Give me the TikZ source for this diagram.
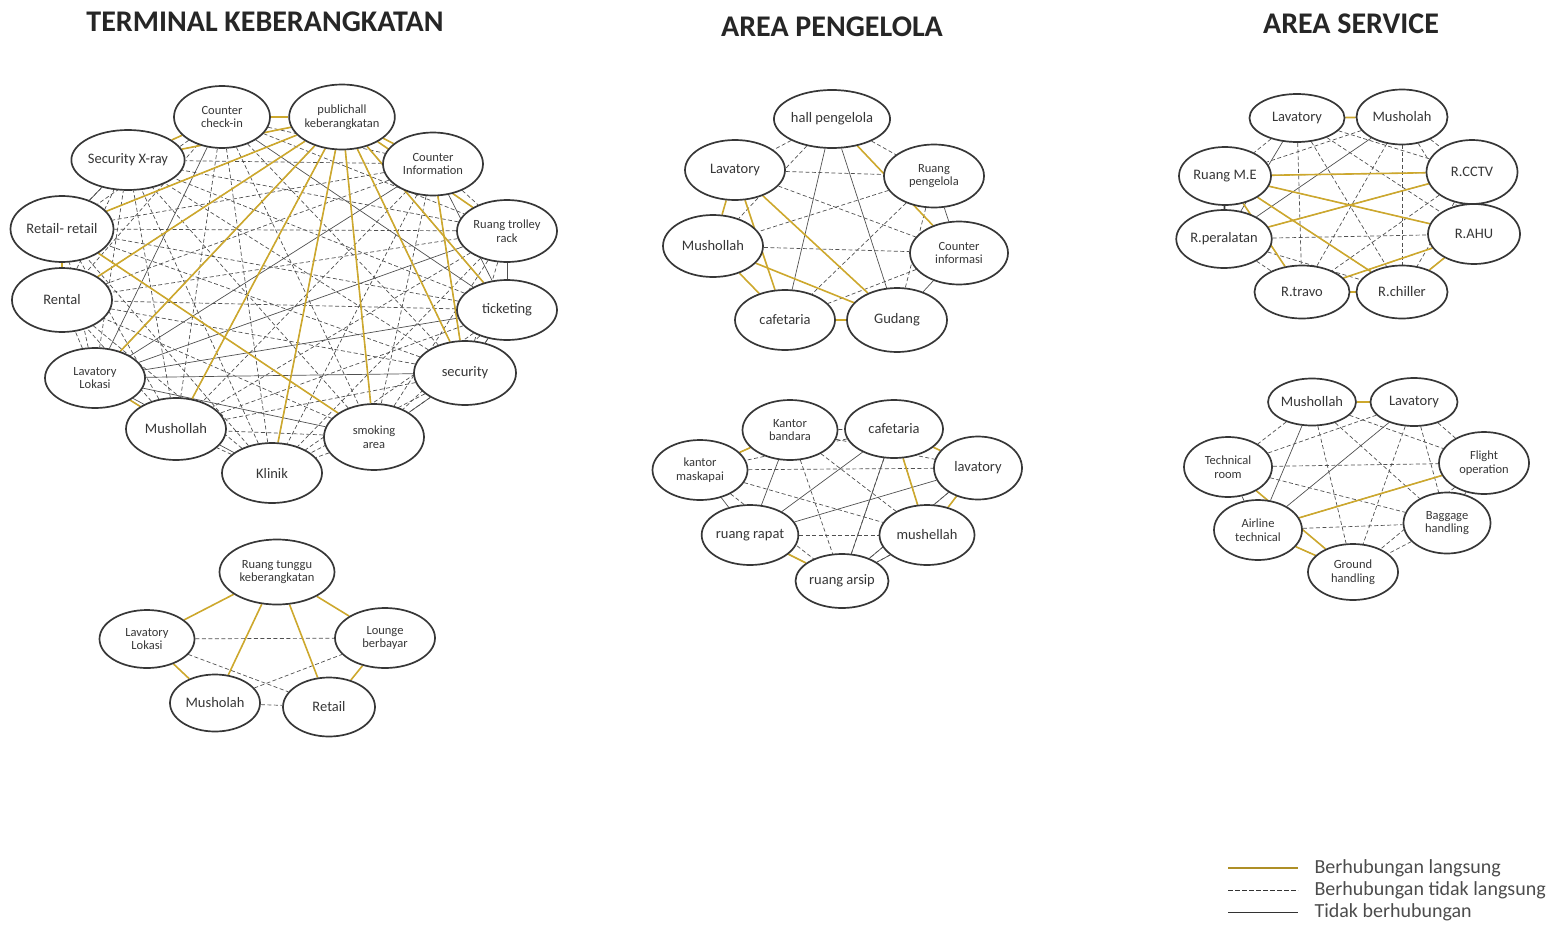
\documentclass[tikz,border=0pt]{standalone}
\usepackage{fontspec}
\setmainfont{Carlito}
\usetikzlibrary{shapes.geometric,backgrounds}
\definecolor{gold}{RGB}{205,168,45}
\definecolor{ink}{RGB}{55,55,55}
\definecolor{wire}{RGB}{80,80,80}
\tikzset{
  room/.style={ellipse, draw=ink, line width=1.7pt, fill=white, inner sep=0pt,
    align=center, text=ink, font=\fontsize{14.5}{15}\selectfont},
  roomsm/.style={room, font=\fontsize{12.5}{13.5}\selectfont},
  linkdirect/.style={draw=gold, line width=1.6pt},
  linkindirect/.style={draw=wire, line width=0.7pt, dash pattern=on 4pt off 2.5pt},
  linknone/.style={draw=wire, line width=0.7pt},
  linkheavy/.style={draw=ink, line width=1.6pt},
  heading/.style={font=\fontsize{30}{32}\selectfont\bfseries, text=black!85},
  legendtext/.style={anchor=west, text=black!70, font=\fontsize{20}{22}\selectfont},
}
% every pair of a group: mostly dashed, some plain
\newcommand\linkmesh[2]{%
  \foreach \i in {1,...,#2}{%
    \foreach \j in {1,...,#2}{%
      \ifnum\i<\j
        \pgfmathtruncatemacro\k{mod(\i*5+\j*3,5)}%
        \ifnum\k=0
          \draw[linknone] (#1\i) -- (#1\j);
        \else
          \draw[linkindirect] (#1\i) -- (#1\j);
        \fi
      \fi}}}
\begin{document}
\begin{tikzpicture}[x=1pt,y=-1pt]
\useasboundingbox (0,0) rectangle (1555,926);

% ---------- titles
\node[heading] (h1) at (265,22) {TERMINAL KEBERANGKATAN};
\node[heading] (h2) at (832,27) {AREA PENGELOLA};
\node[heading] (h3) at (1351,24) {AREA SERVICE};

% ---------- terminal keberangkatan
\node[roomsm, minimum width=96pt, minimum height=62pt] (t1) at (222,117) {Counter\\check-in};
\node[roomsm, minimum width=100pt, minimum height=65pt] (t2) at (342,117) {publichall\\keberangkatan};
\node[roomsm, minimum width=100pt, minimum height=63pt] (t3) at (433,164) {Counter\\Information};
\node[roomsm, minimum width=100pt, minimum height=62pt] (t4) at (507,231) {Ruang trolley\\rack};
\node[room, minimum width=100pt, minimum height=60pt] (t5) at (507,310) {ticketing};
\node[room, minimum width=102pt, minimum height=64pt] (t6) at (465,373) {security};
\node[roomsm, minimum width=100pt, minimum height=66pt] (t7) at (374,437) {smoking\\area};
\node[room, minimum width=100pt, minimum height=60pt] (t8) at (272,473) {Klinik};
\node[room, minimum width=100pt, minimum height=62pt] (t9) at (176,429) {Mushollah};
\node[roomsm, minimum width=100pt, minimum height=60pt] (t10) at (95,378) {Lavatory\\Lokasi};
\node[room, minimum width=100pt, minimum height=64pt] (t11) at (62,300) {Rental};
\node[room, minimum width=103pt, minimum height=66pt] (t12) at (62,229) {Retail- retail};
\node[room, minimum width=100pt, minimum height=60pt] (t13) at (128,160) {Security X-ray};

% ---------- ruang tunggu
\node[roomsm, minimum width=115pt, minimum height=65pt] (w1) at (277,572) {Ruang tunggu\\keberangkatan};
\node[roomsm, minimum width=95pt, minimum height=58pt] (w2) at (147,639) {Lavatory\\Lokasi};
\node[roomsm, minimum width=100pt, minimum height=60pt] (w3) at (385,638) {Lounge\\berbayar};
\node[room, minimum width=90pt, minimum height=57pt] (w4) at (215,703) {Musholah};
\node[room, minimum width=92pt, minimum height=59pt] (w5) at (329,707) {Retail};

% ---------- area pengelola, upper group
\node[room, minimum width=104pt, minimum height=58pt] (p1) at (832,119) {hall pengelola};
\node[room, minimum width=100pt, minimum height=60pt] (p2) at (735,170) {Lavatory};
\node[roomsm, minimum width=100pt, minimum height=63pt] (p3) at (934,176) {Ruang\\pengelola};
\node[room, minimum width=100pt, minimum height=62pt] (p4) at (713,246) {Mushollah};
\node[roomsm, minimum width=98pt, minimum height=63pt] (p5) at (959,253) {Counter\\informasi};
\node[room, minimum width=100pt, minimum height=60pt] (p6) at (785,320) {cafetaria};
\node[room, minimum width=100pt, minimum height=64pt] (p7) at (897,320) {Gudang};

% ---------- area pengelola, lower group
\node[roomsm, minimum width=95pt, minimum height=60pt] (q1) at (790,430) {Kantor\\bandara};
\node[room, minimum width=98pt, minimum height=58pt] (q2) at (894,429) {cafetaria};
\node[roomsm, minimum width=95pt, minimum height=60pt] (q3) at (700,470) {kantor\\maskapai};
\node[room, minimum width=88pt, minimum height=63pt] (q4) at (978,468) {lavatory};
\node[room, minimum width=90pt, minimum height=60pt] (q5) at (750,535) {ruang rapat};
\node[room, minimum width=95pt, minimum height=60pt] (q6) at (927,535) {mushellah};
\node[room, minimum width=90pt, minimum height=54pt] (q7) at (842,581) {ruang arsip};

% ---------- area service, upper group
\node[room, minimum width=95pt, minimum height=48pt] (s1) at (1297,118) {Lavatory};
\node[room, minimum width=91pt, minimum height=55pt] (s2) at (1402,117) {Musholah};
\node[room, minimum width=92pt, minimum height=58pt] (s3) at (1225,176) {Ruang M.E};
\node[room, minimum width=91pt, minimum height=64pt] (s4) at (1472,172) {R.CCTV};
\node[room, minimum width=92pt, minimum height=58pt] (s5) at (1224,239) {R.peralatan};
\node[room, minimum width=92pt, minimum height=60pt] (s6) at (1474,234) {R.AHU};
\node[room, minimum width=95pt, minimum height=53pt] (s7) at (1302,292) {R.travo};
\node[room, minimum width=91pt, minimum height=53pt] (s8) at (1402,292) {R.chiller};

% ---------- area service, lower group
\node[room, minimum width=85pt, minimum height=47pt] (r1) at (1312,402) {Mushollah};
\node[room, minimum width=87pt, minimum height=48pt] (r2) at (1414,402) {Lavatory};
\node[roomsm, minimum width=88pt, minimum height=60pt] (r3) at (1228,467) {Technical\\room};
\node[roomsm, minimum width=90pt, minimum height=62pt] (r4) at (1484,463) {Flight\\operation};
\node[roomsm, minimum width=88pt, minimum height=60pt] (r5) at (1258,530) {Airline\\technical};
\node[roomsm, minimum width=87pt, minimum height=61pt] (r6) at (1447,523) {Baggage\\handling};
\node[roomsm, minimum width=90pt, minimum height=56pt] (r7) at (1353,572) {Ground\\handling};

% ---------- relations, drawn beneath the rooms
\begin{pgfonlayer}{background}
  % terminal keberangkatan
  \linkmesh{t}{13}
  \foreach \a/\b in {t4/t5,t5/t6,t6/t7,t12/t13}
    \draw[linknone] (\a) -- (\b);
  \foreach \a/\b in {t2/t1,t2/t3,t2/t4,t2/t5,t2/t6,t2/t7,t2/t8,t2/t9,t2/t10,t2/t11,t2/t12,t2/t13,
                     t1/t13,t12/t11,t10/t9,t3/t6,t12/t7}
    \draw[linkdirect] (\a) -- (\b);
  % ruang tunggu
  \foreach \a/\b in {w2/w3,w2/w5,w4/w3,w4/w5}
    \draw[linkindirect] (\a) -- (\b);
  \foreach \a/\b in {w1/w2,w1/w3,w1/w4,w1/w5,w2/w4,w3/w5}
    \draw[linkdirect] (\a) -- (\b);
  % pengelola, upper
  \foreach \a/\b in {p1/p2,p1/p3,p1/p4,p2/p3,p2/p5,p3/p4,p3/p6,p3/p7,p4/p5,p5/p6}
    \draw[linkindirect] (\a) -- (\b);
  \foreach \a/\b in {p1/p6,p1/p7,p3/p5,p5/p7}
    \draw[linknone] (\a) -- (\b);
  \foreach \a/\b in {p1/p5,p2/p4,p2/p6,p2/p7,p4/p6,p4/p7,p6/p7}
    \draw[linkdirect] (\a) -- (\b);
  % pengelola, lower
  \linkmesh{q}{7}
  \foreach \a/\b in {q6/q7,q2/q7,q4/q7}
    \draw[linknone] (\a) -- (\b);
  \foreach \a/\b in {q1/q3,q2/q4,q2/q6,q4/q6,q5/q7}
    \draw[linkdirect] (\a) -- (\b);
  % service, upper
  \linkmesh{s}{8}
  \draw[linkheavy] (s3) -- (s5);
  \foreach \a/\b in {s1/s2,s3/s4,s3/s6,s3/s8,s3/s7,s5/s4,s7/s6,s7/s8,s6/s8}
    \draw[linkdirect] (\a) -- (\b);
  % service, lower
  \linkmesh{r}{7}
  \foreach \a/\b in {r1/r2,r3/r7,r5/r4,r5/r7}
    \draw[linkdirect] (\a) -- (\b);
\end{pgfonlayer}

% ---------- legend
\coordinate (la1) at (1228,868); \coordinate (lb1) at (1298,868);
\coordinate (la2) at (1228,890); \coordinate (lb2) at (1298,890);
\coordinate (la3) at (1228,912); \coordinate (lb3) at (1298,912);
\draw[draw=gold!85!black, line width=1.4pt] (la1) -- (lb1);
\draw[draw=black!80, line width=0.9pt, dash pattern=on 5pt off 2pt] (la2) -- (lb2);
\draw[draw=black!80, line width=0.9pt] (la3) -- (lb3);
\node[legendtext] (lt1) at (1311,868) {Berhubungan langsung};
\node[legendtext] (lt2) at (1311,890) {Berhubungan tidak langsung};
\node[legendtext] (lt3) at (1311,912) {Tidak berhubungan};
\end{tikzpicture}
\end{document}
